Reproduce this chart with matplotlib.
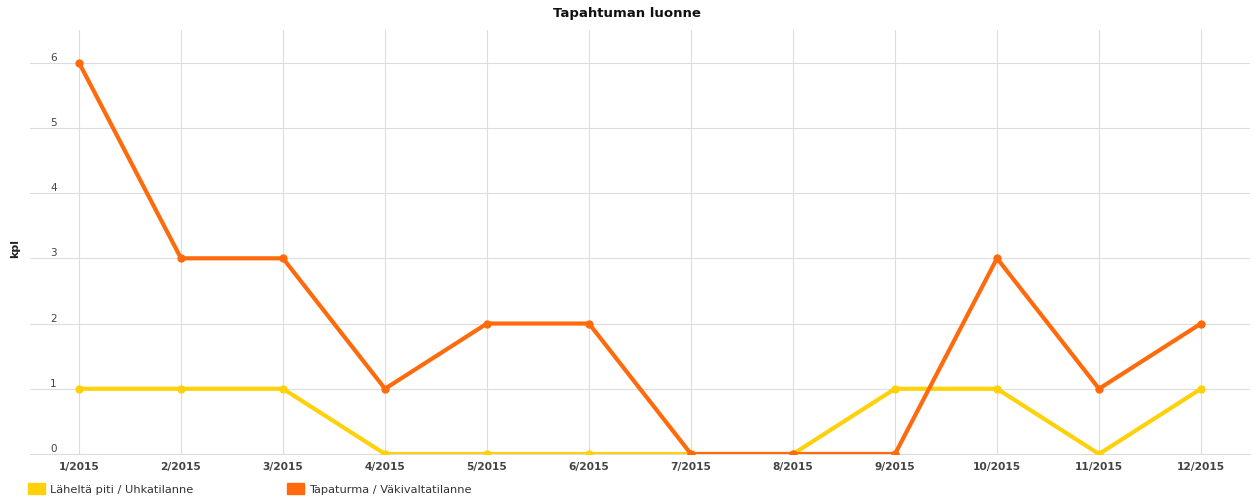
import matplotlib.pyplot as plt
from matplotlib.patches import Patch

# Monthly counts by incident type
months = ['1/2015', '2/2015', '3/2015', '4/2015', '5/2015', '6/2015',
          '7/2015', '8/2015', '9/2015', '10/2015', '11/2015', '12/2015']
near_miss = [1, 1, 1, 0, 0, 0, 0, 0, 1, 1, 0, 1]
accident = [6, 3, 3, 1, 2, 2, 0, 0, 0, 3, 1, 2]

near_miss_label = 'Läheltä piti / Uhkatilanne'
accident_label = 'Tapaturma / Väkivaltatilanne'
yellow = '#FFD10A'
orange = '#FF6A0D'

fig = plt.figure(figsize=(12.53, 4.97), dpi=100)
ax = fig.add_axes([30 / 1253, 43 / 497, 1220 / 1253, 424 / 497])

x = range(len(months))
ax.plot(x, near_miss, color=yellow, lw=3, marker='o', ms=5, zorder=3)
ax.plot(x, accident, color=orange, lw=3, marker='o', ms=5, zorder=4)

ax.set_xlim(-0.48, 11.48)
ax.set_ylim(0, 6.5)
ax.set_xticks(list(x))
ax.set_xticklabels(months, fontsize=7.7, fontweight='bold', color='#444444')
ax.set_yticks(range(7))
ax.set_yticklabels([str(v) for v in range(7)], fontsize=7.5, color='#444444')
ax.tick_params(axis='y', length=0, pad=-17)
ax.tick_params(axis='x', length=0, pad=6)
for lbl in ax.get_yticklabels():
    lbl.set_horizontalalignment('center')
    lbl.set_verticalalignment('bottom')

ax.grid(True, color='#dddddd', lw=0.8)
ax.set_axisbelow(True)
for side in ['top', 'right', 'left']:
    ax.spines[side].set_visible(False)
ax.spines['bottom'].set_color('#dddddd')

fig.text(15 / 1253, 0.5, 'kpl', rotation=90, fontsize=8, fontweight='bold',
         ha='center', va='center', color='#222222')
fig.text(0.5, 1 - 14 / 497, 'Tapahtuman luonne', fontsize=9.5, fontweight='bold',
         ha='center', va='center', color='#111111')

handles = [Patch(color=yellow), Patch(color=orange)]
fig.legend(handles, [near_miss_label, accident_label], loc='lower left',
           bbox_to_anchor=(18 / 1253, -8 / 497), ncol=2, frameon=False,
           fontsize=8.2, handlelength=1.5, handleheight=1.1, handletextpad=0.45,
           columnspacing=8.2, labelcolor='#333333')

fig.savefig('out.png', dpi=100)
